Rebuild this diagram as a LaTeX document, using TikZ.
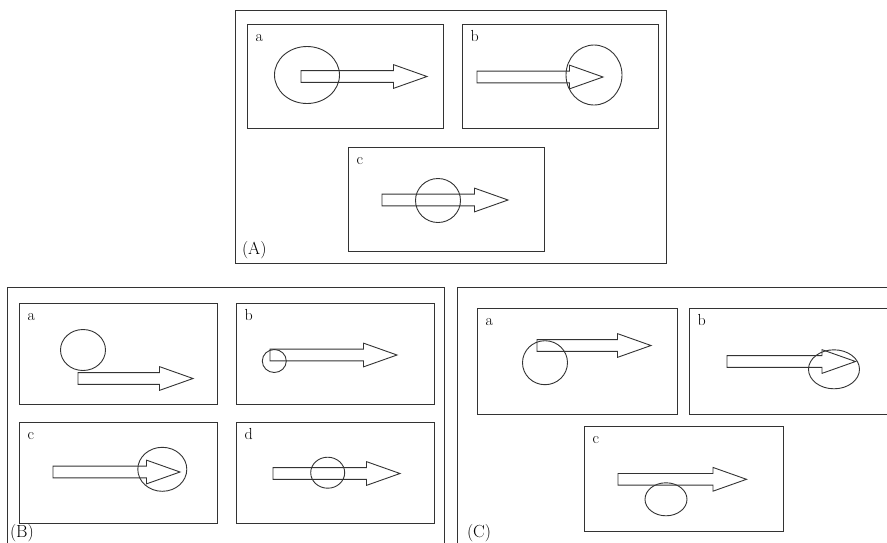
\documentclass[tikz,border=0pt]{standalone}
\usepackage{tikz}
\usetikzlibrary{shapes.geometric, shapes.arrows, positioning}

\begin{document}
\begin{tikzpicture}[x=1pt, y=-1pt, outer sep=0pt, line width=0.9pt]

\tikzstyle{box}=[rectangle,draw=black!80,anchor=north west,inner sep=0pt]
\tikzstyle{smallbox}=[box,minimum width=196pt,minimum height=104pt]
\tikzstyle{gridbox}=[box,minimum width=198pt,minimum height=101pt]
\tikzstyle{widebox}=[box,minimum width=200pt,minimum height=106pt]
\tikzstyle{oval}=[ellipse,draw=black!80,inner sep=0pt]
\tikzstyle{fatarrow}=[single arrow,draw=black!80,anchor=tail,inner xsep=0pt,inner ysep=5.4pt,single arrow head extend=6pt,single arrow tip angle=39,minimum height=127pt]
\tikzstyle{tag}=[inner sep=0pt,text height=11pt,text depth=0pt,font=\fontsize{16}{18}\selectfont]
\tikzstyle{caption}=[inner sep=0pt,anchor=base west,font=\fontsize{17.5}{20}\selectfont]

\useasboundingbox (0,0) rectangle (887,542);
\clip (0,0) rectangle (887,542);

% panel (A)
\node[box,minimum width=431pt,minimum height=253pt] (frameA) at (235,10) {};
\node[smallbox] (Aa) at (247,24) {};
\node[smallbox] (Ab) at (462,24) {};
\node[smallbox] (Ac) at (348,147) {};
\node[tag,below right=6.5pt and 8.5pt of Aa.north west] (Aa-tag) {a};
\node[tag,below right=6.5pt and 8.5pt of Ab.north west] (Ab-tag) {b};
\node[tag,below right=6.5pt and 8.5pt of Ac.north west] (Ac-tag) {c};
\node[caption] (capA) at (242,254) {(A)};

\node[oval,minimum width=65pt,minimum height=57pt] (Aa-circ) at (307,75) {};
\node[fatarrow,minimum height=126pt] (Aa-arr) at (301,76.5) {};
\node[fatarrow,minimum height=126pt] (Ab-arr) at (477,77) {};
\node[oval,minimum width=56pt,minimum height=60pt] (Ab-circ) at (594,75) {};
\node[fatarrow,minimum height=126pt] (Ac-arr) at (382,200) {};
\node[oval,minimum width=45pt,minimum height=44pt] (Ac-circ) at (438,200.5) {};

% panel (B)
\draw[black!80] (7,545) -- (7,287) -- (444,287) -- (444,545);
\node[gridbox] (Ba) at (19,303) {};
\node[gridbox] (Bb) at (236,303) {};
\node[gridbox] (Bc) at (19,422) {};
\node[gridbox] (Bd) at (236,422) {};
\node[tag,below right=6.5pt and 8.5pt of Ba.north west] (Ba-tag) {a};
\node[tag,below right=6.5pt and 8.5pt of Bb.north west] (Bb-tag) {b};
\node[tag,below right=6.5pt and 8.5pt of Bc.north west] (Bc-tag) {c};
\node[tag,below right=6.5pt and 8.5pt of Bd.north west] (Bd-tag) {d};
\node[caption] (capB) at (10,537.5) {(B)};

\node[oval,minimum width=45pt,minimum height=41pt] (Ba-circ) at (83,350) {};
\node[fatarrow,minimum height=115pt] (Ba-arr) at (78,378.5) {};
\node[oval,minimum width=24pt,minimum height=23pt] (Bb-circ) at (274.3,361) {};
\node[fatarrow] (Bb-arr) at (270,355) {};
\node[fatarrow] (Bc-arr) at (53,472) {};
\node[oval,minimum width=49pt,minimum height=44pt] (Bc-circ) at (162.3,469.3) {};
\node[fatarrow] (Bd-arr) at (273,473.5) {};
\node[oval,minimum width=34pt,minimum height=31pt] (Bd-circ) at (327.7,472.7) {};

% panel (C)
\draw[black!80] (457,545) -- (457,287) -- (890,287);
\node[widebox] (Ca) at (477,308) {};
\node[widebox] (Cb) at (689,308) {};
\node[widebox,minimum width=199pt,minimum height=105pt] (Cc) at (584,426) {};
\node[tag,below right=6.5pt and 8.5pt of Ca.north west] (Ca-tag) {a};
\node[tag,below right=6.5pt and 8.5pt of Cb.north west] (Cb-tag) {b};
\node[tag,below right=6.5pt and 8.5pt of Cc.north west] (Cc-tag) {c};
\node[caption] (capC) at (467,537.5) {(C)};

\node[oval,minimum width=45pt,minimum height=44pt] (Ca-circ) at (545,362.7) {};
\node[fatarrow,minimum height=114pt] (Ca-arr) at (537,345.5) {};
\node[fatarrow,minimum height=128.5pt] (Cb-arr) at (727,361.5) {};
\node[oval,minimum width=51pt,minimum height=39pt] (Cb-circ) at (834,369.3) {};
\node[fatarrow,minimum height=128.5pt] (Cc-arr) at (618,479.3) {};
\node[oval,minimum width=42pt,minimum height=33pt] (Cc-circ) at (666,499.3) {};

\end{tikzpicture}
\end{document}
